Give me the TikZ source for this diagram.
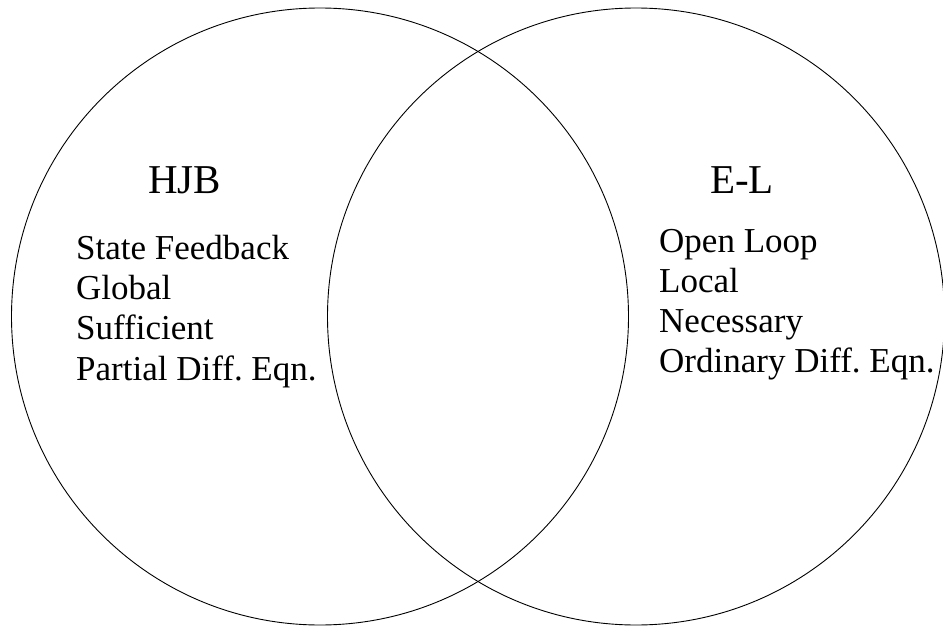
\documentclass[tikz,border=0pt]{standalone}
\usepackage{fontspec}
\setmainfont{Liberation Serif}
\frenchspacing
\begin{document}
\begin{tikzpicture}[x=1pt,y=-1pt,
  ring/.style={draw=black,line width=0.9pt},
  head/.style={anchor=base west,inner sep=0pt,font=\fontsize{41}{45}\selectfont},
  item/.style={anchor=base west,inner sep=0pt,font=\fontsize{35}{40}\selectfont}]
\useasboundingbox (0,0) rectangle (943,626);
\draw[ring] (320,316.5) circle[radius=308.5];
\draw[ring] (636,316.5) circle[radius=308.5];
\node[head] (hjb) at (148,193) {HJB};
\node[head] (el) at (710,193) {E-L};
\node[item] (l1) at (76,259) {State Feedback};
\node[item] (l2) at (76,299) {Global};
\node[item] (l3) at (76,339.5) {Sufficient};
\node[item] (l4) at (76,380) {Partial Diff.\ Eqn.};
\node[item] (r1) at (659,252) {Open Loop};
\node[item] (r2) at (659,292) {Local};
\node[item] (r3) at (659,332) {Necessary};
\node[item] (r4) at (659,372) {Ordinary Diff.\ Eqn.};
\end{tikzpicture}
\end{document}
